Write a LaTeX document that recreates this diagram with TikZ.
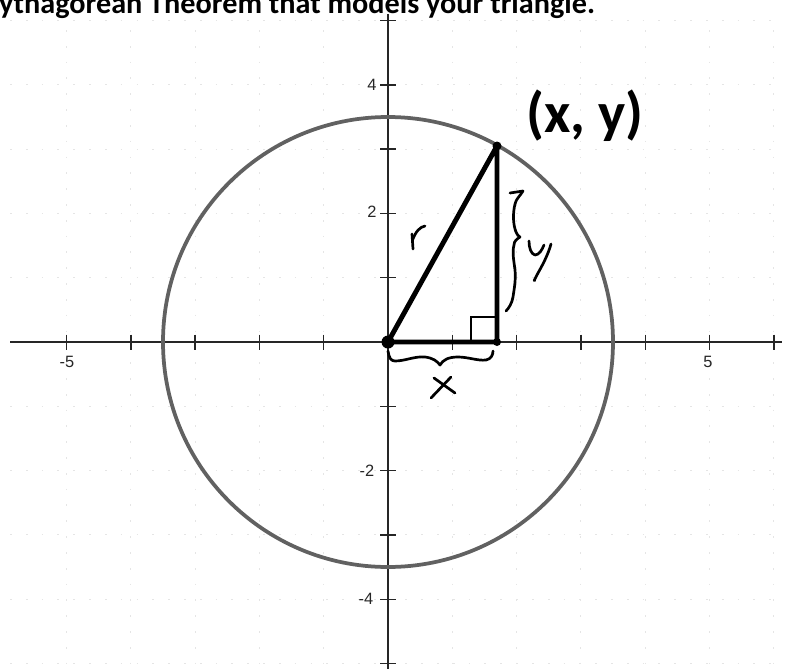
\documentclass[tikz,border=0pt]{standalone}
\usepackage{fontspec}
\setmainfont{Carlito}
\newfontfamily\labfont{Liberation Sans}
\begin{document}
\begin{tikzpicture}[x=0.03cm,y=-0.03cm,
  axisline/.style={line width=1.4pt, black!85},
  tickmark/.style={line width=1.2pt, black!85},
  gridline/.style={black!10, line width=0.7pt, dash pattern=on 1.5pt off 12pt},
  circline/.style={line width=3.2pt, black!62},
  triline/.style={line width=4.2pt, black, line join=round},
  hand/.style={line width=2.3pt, black, line cap=round, line join=round},
  ticklab/.style={font=\labfont\fontsize{14}{14}\selectfont, inner sep=0pt, text=black!85}]
\useasboundingbox (0,0) rectangle (787,669);
\clip (0,0) rectangle (787,669);
% faint grid
\foreach \i in {-5,...,6} {\draw[gridline] ({388+64.3*\i},30) -- ({388+64.3*\i},669);}
\foreach \j in {-5,...,5} {\draw[gridline] (10,{342-64.3*\j}) -- (782,{342-64.3*\j});}
% title
\node[anchor=base west, inner sep=0pt, font=\bfseries\fontsize{25.8}{26}\selectfont] (title) at (-1,13) {ythagorean Theorem that models your triangle.};
% axes
\draw[axisline] (10,342) -- (782,342);
\draw[axisline] (388,14) -- (388,669);
\foreach \i in {-5,...,-1,1,2,...,6} {\draw[tickmark] ({388+64.3*\i},334.5) -- ({388+64.3*\i},349.5);}
\foreach \j in {-5,...,-1,1,2,...,5} {\draw[tickmark] (380,{342-64.3*\j}) -- (396,{342-64.3*\j});}
% tick labels
\node[ticklab] (lxm5) at (67,362) {-5};
\node[ticklab] (lx5) at (708,362) {5};
\node[ticklab] (ly4) at (372,85) {4};
\node[ticklab] (ly2) at (372,212) {2};
\node[ticklab] (lym2) at (367,471) {-2};
\node[ticklab] (lym4) at (366,599) {-4};
% circle
\draw[circline] (388,342) circle[radius=225];
% triangle
\coordinate (O) at (388,342);
\coordinate (P) at (497,146);
\coordinate (F) at (497,342);
\draw[triline] (O) -- (P) -- (F) -- cycle;
\draw[line width=2pt] (471,342) -- (471,317) -- (497,317);
\fill (O) circle[radius=6.5];
\fill (P) circle[radius=4.5];
\fill (F) circle[radius=4];
% point label
\node[anchor=base, inner sep=0pt, font=\bfseries\fontsize{49}{49}\selectfont] (ptlab) at (585,132) {(x, y)};
% handwritten r
\draw[hand] (413,249) -- (412,234);
\draw[hand] (412.5,240) .. controls (416,231) and (420,227) .. (425,226);
% y brace
\draw[hand] (510,193) -- (523,191) .. controls (520,196) and (516,199) .. (515,204) .. controls (513,212) and (513,222) .. (515,229) .. controls (516,233) and (518,236) .. (520,237) .. controls (517,239) and (514,241) .. (514,245) .. controls (512,252) and (514,262) .. (515,270) .. controls (516,280) and (514,290) .. (513,297) .. controls (512,303) and (509,308) .. (506,311);
% y letter
\draw[hand] (529,241) .. controls (529,248) and (531,254) .. (535,255) .. controls (539,255) and (542,250) .. (544,245);
\draw[hand] (551,244) .. controls (548,255) and (542,266) .. (538,273) .. controls (535,279) and (533,282) .. (535,280);
% x brace
\draw[hand] (388,351) .. controls (389,358) and (391,361) .. (395,361) .. controls (405,361) and (415,356) .. (425,357) .. controls (433,358) and (437,361) .. (440,365) .. controls (443,360) and (448,357) .. (458,357) .. controls (468,357) and (478,361) .. (486,360) .. controls (491,359) and (493,355) .. (493,351);
% x letter
\draw[hand] (434,378) -- (455,393);
\draw[hand] (451,377) -- (431,398);
\end{tikzpicture}
\end{document}
